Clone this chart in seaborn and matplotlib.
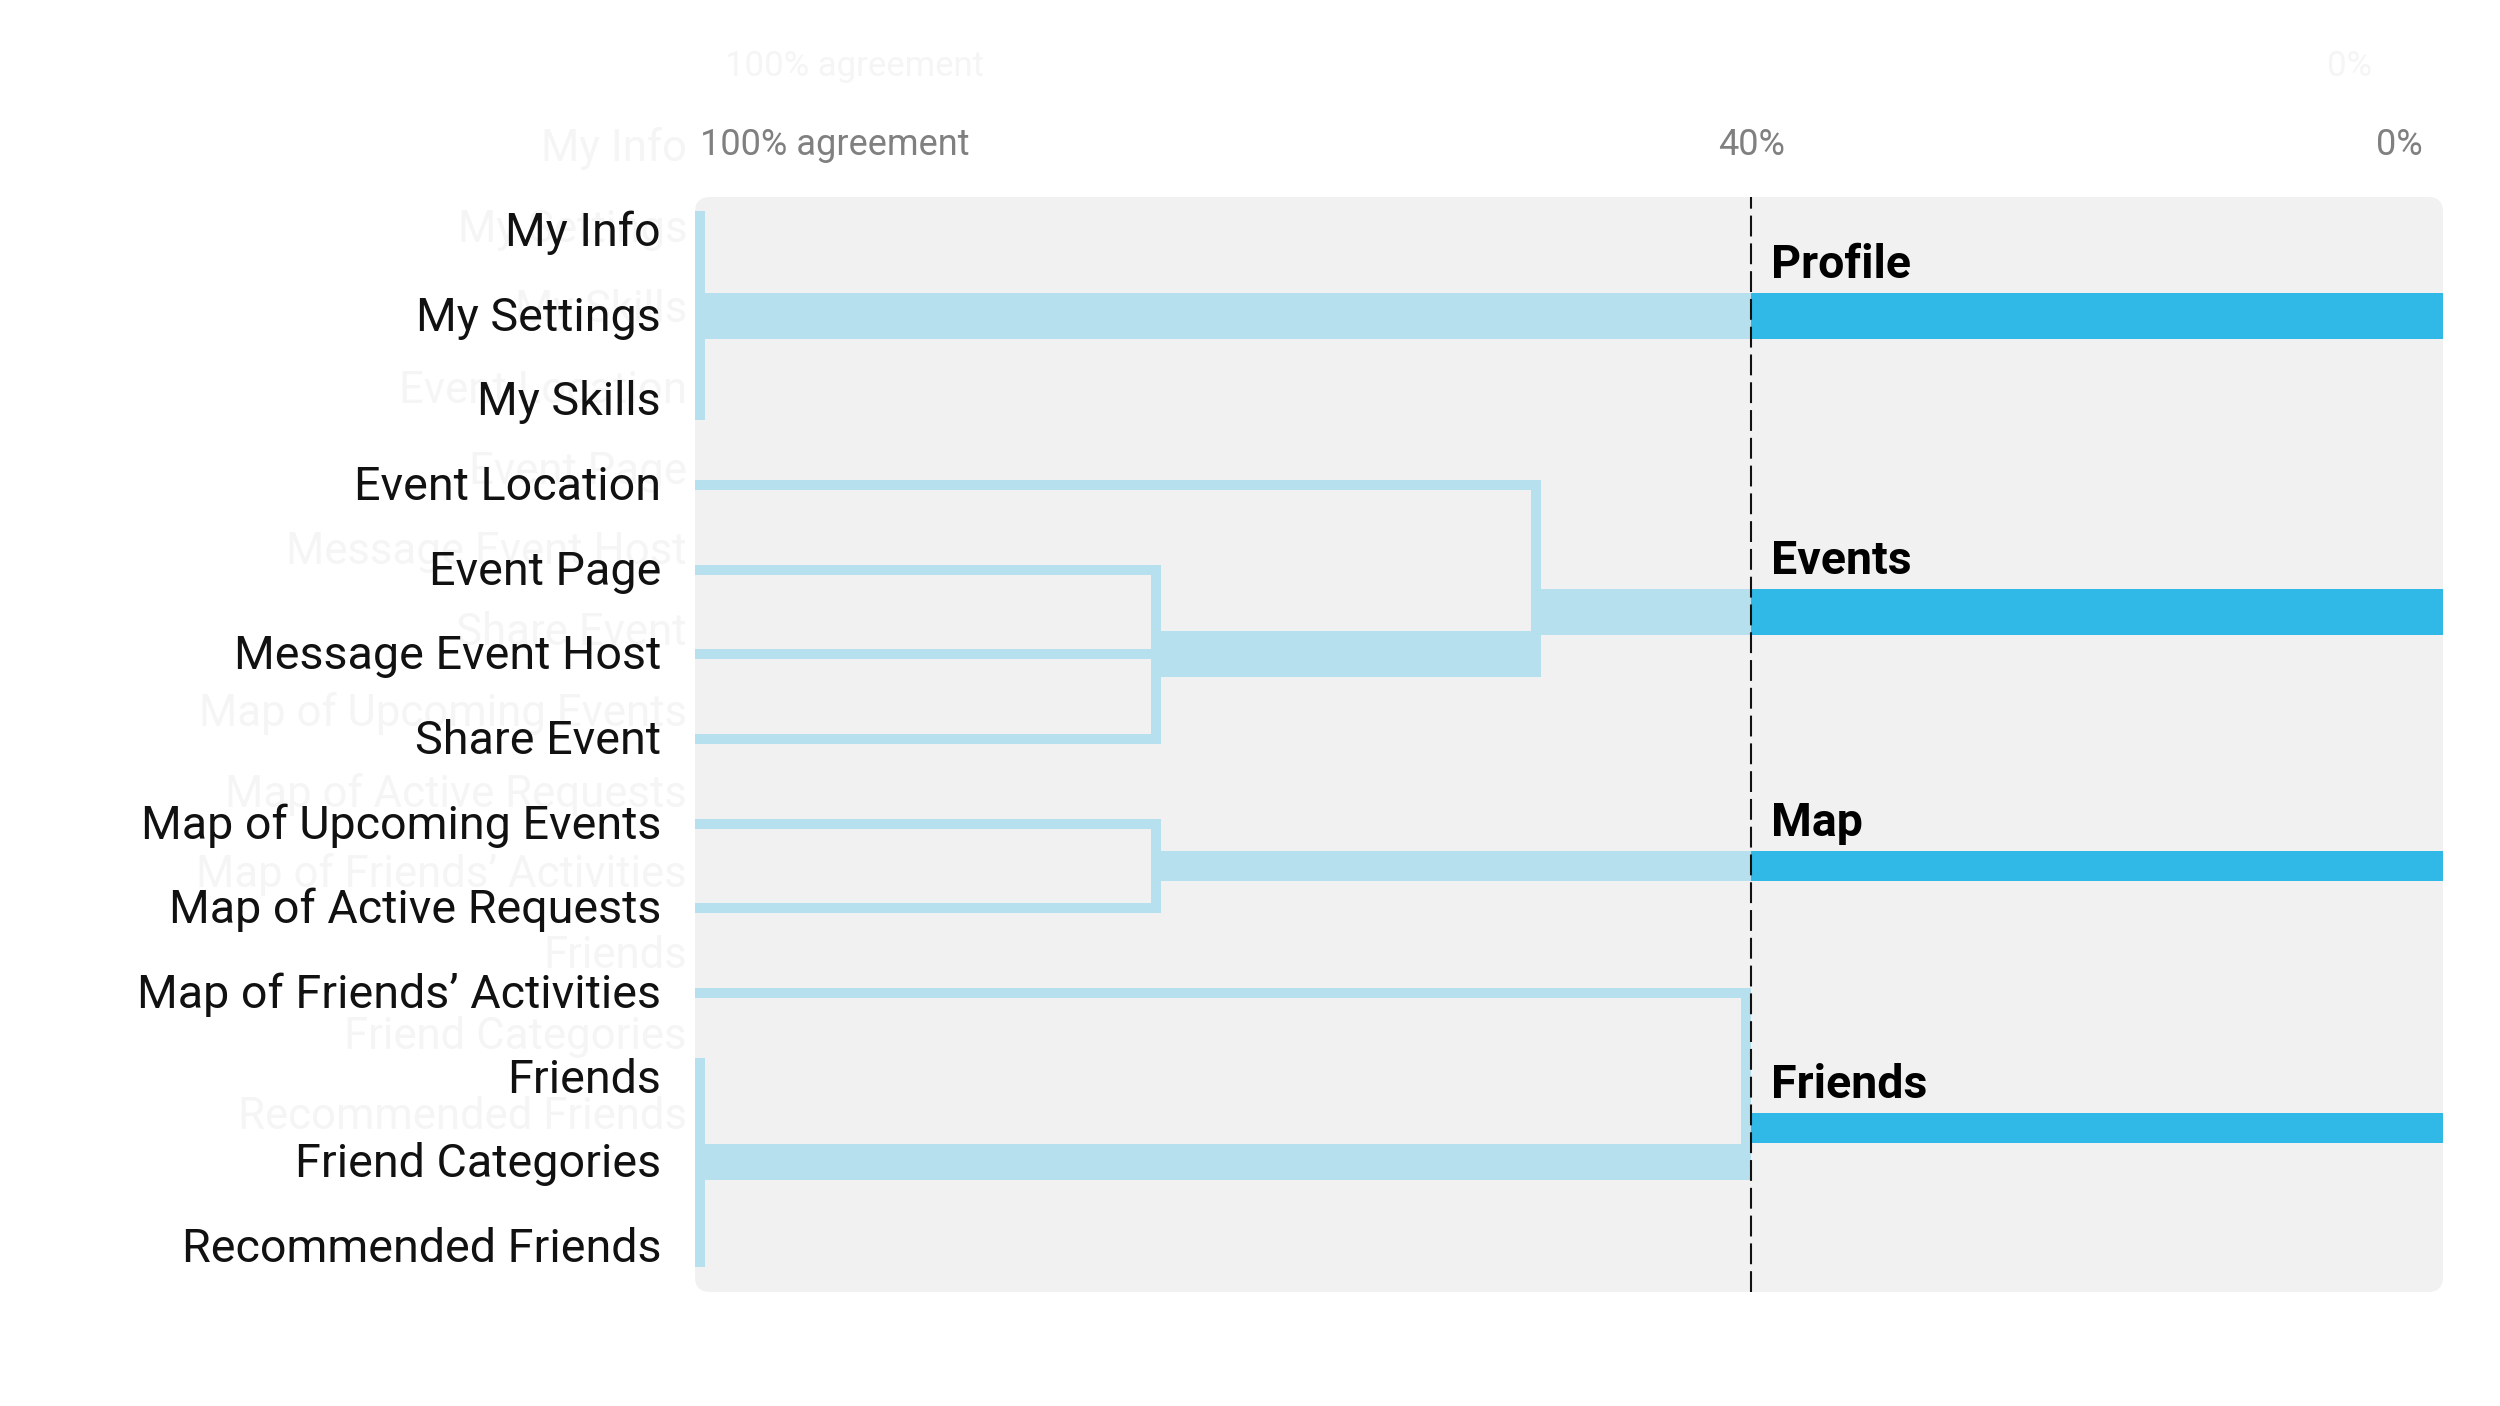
import seaborn as sns
import matplotlib.pyplot as plt
from matplotlib.patches import FancyBboxPatch

# leaves, top to bottom
leaf_labels = ["My Info", "My Settings", "My Skills", "Event Location", "Event Page",
               "Message Event Host", "Share Event", "Map of Upcoming Events",
               "Map of Active Requests", "Map of Friends’ Activities", "Friends",
               "Friend Categories", "Recommended Friends"]

# merges in the order they happen (agreement in %, row = vertical position of the merged branch)
merge_names = ["profile", "events core", "events", "map", "friends core", "friends"]
merge_agreement = [100, 74, 52.3, 74, 100, 40.3]
merge_row = [1.0, 5.0, 4.5, 7.5, 11.0, 10.6]
merge_children = [
    ["My Info", "My Settings", "My Skills"],
    ["Event Page", "Message Event Host", "Share Event"],
    ["Event Location", "events core"],
    ["Map of Upcoming Events", "Map of Active Requests"],
    ["Friends", "Friend Categories", "Recommended Friends"],
    ["Map of Friends’ Activities", "friends core"],
]
group_labels = ["Profile", "Events", "Map", "Friends"]
cutoff = 40

tick_values = [100, 40]
tick_labels = ["100% agreement", "40%", "0%"]

# styling
LIGHT = "#B6E0EE"
DARK = "#30B9E6"
PANEL = "#F1F1F2"
GHOST = "#F5F5F5"
leaf_px = 10
merge_px = {"profile": 46, "events core": 46, "events": 46, "map": 30,
            "friends core": 36, "friends": 30}

W, H, DPI = 2500, 1406, 100
ROW_PX, PCT_PX = 84.67, 17.52
AX_L, AX_R, AX_T, AX_B = 695, 2443, 197, 1292

sns.set_theme(style="white")
plt.rcParams["font.family"] = ["Roboto", "DejaVu Sans"]
plt.rcParams["lines.scale_dashes"] = False

fig = plt.figure(figsize=(W / DPI, H / DPI), dpi=DPI)
fig.patch.set_facecolor("white")
ax = fig.add_axes([AX_L / W, 1 - AX_B / H, (AX_R - AX_L) / W, (AX_B - AX_T) / H])
ax.axis("off")

panel = FancyBboxPatch((AX_L / W, 1 - AX_B / H), (AX_R - AX_L) / W, (AX_B - AX_T) / H,
                       boxstyle="round,pad=0,rounding_size=0.006", mutation_aspect=W / H,
                       transform=fig.transFigure, fc=PANEL, ec="none", zorder=-1)
fig.add_artist(panel)

vw = leaf_px / PCT_PX  # width of vertical connectors in % units


def rect(x_hi, x_lo, y, h):
    # split every piece at the cutoff: light before, dark after
    if x_hi > cutoff:
        lo = max(x_lo, cutoff)
        ax.barh(y, x_hi - lo, left=lo, height=h, color=LIGHT, lw=0, zorder=2)
    if x_lo < cutoff:
        hi = min(x_hi, cutoff)
        ax.barh(y, hi - x_lo, left=x_lo, height=h, color=DARK, lw=0, zorder=2)


pos = {lab: (100, i, leaf_px / ROW_PX) for i, lab in enumerate(leaf_labels)}
for name, a, r, kids in zip(merge_names, merge_agreement, merge_row, merge_children):
    tops, bots = [], []
    for k in kids:
        ka, kr, kth = pos[k]
        rect(ka + vw / 2, a - vw / 2, kr, kth)
        pad = 20 / ROW_PX if a == 100 else kth / 2
        tops.append(kr - pad)
        bots.append(kr + pad)
    rect(a + vw / 2, a - vw / 2, (min(tops) + max(bots)) / 2, max(bots) - min(tops))
    pos[name] = (a, r, merge_px[name] / ROW_PX)

child_set = {k for kids in merge_children for k in kids}
roots = [n for n in merge_names if n not in child_set]
for name, glab in zip(roots, group_labels):
    a, r, th = pos[name]
    rect(a + vw / 2, -5, r, th)
    ax.text(cutoff - 20 / PCT_PX, r - th / 2 - 15 / ROW_PX, glab, ha="left", va="baseline",
            fontsize=33.5, fontweight="bold", color="black", zorder=4)

ax.axvline(cutoff, color="#111111", lw=1.5, dashes=(15, 5), zorder=3)

ax.set_xlim(100 + 5 / PCT_PX, 100 - (AX_R - 700) / PCT_PX)
ax.set_ylim(12 + (AX_B - 1247) / ROW_PX, -(231 - AX_T) / ROW_PX)

# row labels
for i, lab in enumerate(leaf_labels):
    ax.text(-(AX_L - 661) / (AX_R - AX_L), i + 15 / ROW_PX, lab,
            transform=ax.get_yaxis_transform(), ha="right", va="baseline",
            fontsize=33.6, color="#111111")

# scale labels
ty = 1 + (AX_T - 155) / (AX_B - AX_T)
ax.text(tick_values[0], ty, tick_labels[0], transform=ax.get_xaxis_transform(),
        ha="left", va="baseline", fontsize=26, color="#808080")
ax.text(tick_values[1], ty, tick_labels[1], transform=ax.get_xaxis_transform(),
        ha="center", va="baseline", fontsize=26, color="#808080")
ax.text(1 - 20 / (AX_R - AX_L), ty, tick_labels[2], transform=ax.transAxes,
        ha="right", va="baseline", fontsize=26, color="#808080")

# faint ghost of the previous frame
for i, lab in enumerate(leaf_labels):
    fig.text(687 / W, 1 - (161 + i * 80.7) / H, lab, ha="right", va="baseline",
             fontsize=31.5, color=GHOST, zorder=-2)
fig.text(725 / W, 1 - 76 / H, tick_labels[0], ha="left", va="baseline",
         fontsize=25, color=GHOST, zorder=-2)
fig.text(2372 / W, 1 - 76 / H, tick_labels[2], ha="right", va="baseline",
         fontsize=25, color=GHOST, zorder=-2)

fig.savefig("out.png", dpi=DPI)
